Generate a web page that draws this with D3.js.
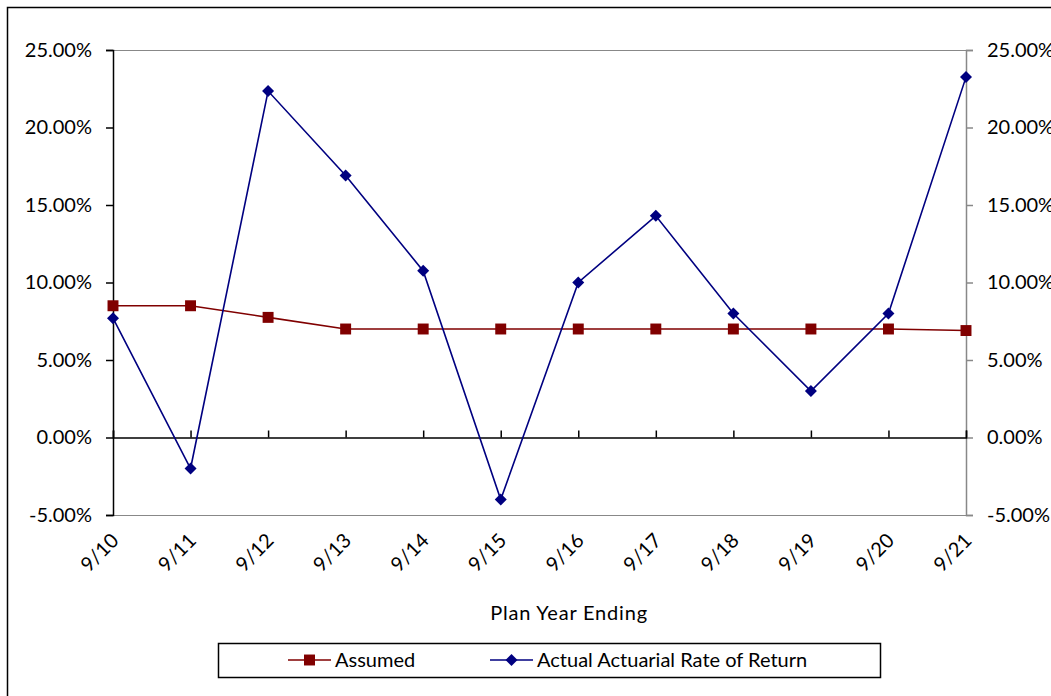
<!DOCTYPE html>
<html>
<head>
<meta charset="utf-8">
<script src="https://cdn.jsdelivr.net/npm/d3@7"></script>
<style>
  body { margin: 0; background: #fff; }
  text { font-family: Lato, "Open Sans", sans-serif; fill: #000; }
</style>
</head>
<body>
<svg id="chart" width="1051" height="696"></svg>
<script>
// plan years and returns (percent)
var years = ['9/10', '9/11', '9/12', '9/13', '9/14', '9/15', '9/16', '9/17', '9/18', '9/19', '9/20', '9/21']
var assumed = [8.5, 8.5, 7.75, 7.0, 7.0, 7.0, 7.0, 7.0, 7.0, 7.0, 7.0, 6.9]
var actual = [7.7, -2.0, 22.35, 16.9, 10.75, -4.0, 10.0, 14.3, 8.0, 3.0, 8.0, 23.25]
var yTicks = [-5, 0, 5, 10, 15, 20, 25]

var svg = d3.select('#chart')
var plotLeft = 113, plotRight = 966, plotTop = 50, plotBottom = 515
var fontSize = '20px'

var x = d3.scalePoint().domain(years).range([plotLeft, plotRight])
var y = d3.scaleLinear().domain([-5, 25]).range([plotBottom, plotTop])
var fmt = (d) => d.toFixed(2) + '%'

// outer frame (only left and top edges visible)
svg.append('path')
  .attr('d', 'M7.5,696 V7.5 H1051')
  .attr('fill', 'none').attr('stroke', '#000').attr('stroke-width', 1.5)

// plot area top and bottom border
svg.append('line').attr('x1', plotLeft).attr('x2', plotRight).attr('y1', plotTop + 0.5).attr('y2', plotTop + 0.5)
  .attr('stroke', '#888')
svg.append('line').attr('x1', plotLeft).attr('x2', plotRight).attr('y1', plotBottom + 0.5).attr('y2', plotBottom + 0.5)
  .attr('stroke', '#888')

// left axis
var yl = svg.append('g').attr('transform', `translate(${plotLeft},0)`)
  .call(d3.axisLeft(y).tickValues(yTicks).tickFormat(fmt).tickSize(7).tickPadding(14))
yl.select('.domain').attr('stroke', '#000').attr('stroke-width', 1.5)
yl.selectAll('.tick line').attr('stroke', '#000').attr('stroke-width', 1.5)
yl.selectAll('.tick text').style('font-size', fontSize).attr('fill', '#000')

// right axis
var yr = svg.append('g').attr('transform', `translate(${plotRight},0)`)
  .call(d3.axisRight(y).tickValues(yTicks).tickFormat(fmt).tickSize(7).tickPadding(14))
yr.select('.domain').attr('stroke', '#888').attr('stroke-width', 1.5)
yr.selectAll('.tick line').attr('stroke', '#888').attr('stroke-width', 1.5)
yr.selectAll('.tick text').style('font-size', fontSize).attr('fill', '#000')

// category axis along zero line, ticks pointing up
var xa = svg.append('g').attr('transform', `translate(0,${y(0)})`)
  .call(d3.axisTop(x).tickSize(7).tickFormat(''))
xa.select('.domain').attr('stroke', '#000').attr('stroke-width', 1.5)
xa.selectAll('.tick line').attr('stroke', '#000').attr('stroke-width', 1.5)

// rotated category labels below plot
svg.append('g').selectAll('text').data(years).enter().append('text')
  .attr('transform', (d) => `translate(${x(d) - 3},${plotBottom + 17}) rotate(-45)`)
  .attr('text-anchor', 'end')
  .attr('dy', '0.7em')
  .style('font-size', fontSize)
  .text((d) => d)

svg.append('text')
  .attr('x', 569).attr('y', 620)
  .attr('text-anchor', 'middle')
  .style('font-size', fontSize)
  .style('letter-spacing', '0.8px')
  .text('Plan Year Ending')

var line = d3.line().x((d, i) => x(years[i])).y((d) => y(d))

var series = [
  { name: 'Assumed', values: assumed, color: '#800000', size: 120, rot: 0 },
  { name: 'Actual Actuarial Rate of Return', values: actual, color: '#000080', size: 72, rot: 45 },
]

series.forEach((s) => {
  svg.append('path')
    .attr('d', line(s.values))
    .attr('fill', 'none')
    .attr('stroke', s.color)
    .attr('stroke-width', 1.6)
  svg.append('g').selectAll('path').data(s.values).enter().append('path')
    .attr('transform', (d, i) => `translate(${x(years[i])},${y(d)}) rotate(${s.rot})`)
    .attr('d', d3.symbol().type(d3.symbolSquare).size(s.size))
    .attr('fill', s.color)
})

// legend
var lg = svg.append('g')
lg.append('rect').attr('x', 218.5).attr('y', 643.5).attr('width', 662).attr('height', 34)
  .attr('fill', '#fff').attr('stroke', '#000').attr('stroke-width', 1.5)
var legendX = [288, 490]
series.forEach((s, i) => {
  var lx = legendX[i]
  lg.append('line').attr('x1', lx).attr('x2', lx + 43).attr('y1', 660).attr('y2', 660)
    .attr('stroke', s.color).attr('stroke-width', 1.6)
  lg.append('path').attr('transform', `translate(${lx + 21.5},660) rotate(${s.rot})`)
    .attr('d', d3.symbol().type(d3.symbolSquare).size(s.size)).attr('fill', s.color)
  lg.append('text').attr('x', lx + 47).attr('y', 660).attr('dy', '0.35em')
    .style('font-size', fontSize).text(s.name)
})
</script>
</body>
</html>
